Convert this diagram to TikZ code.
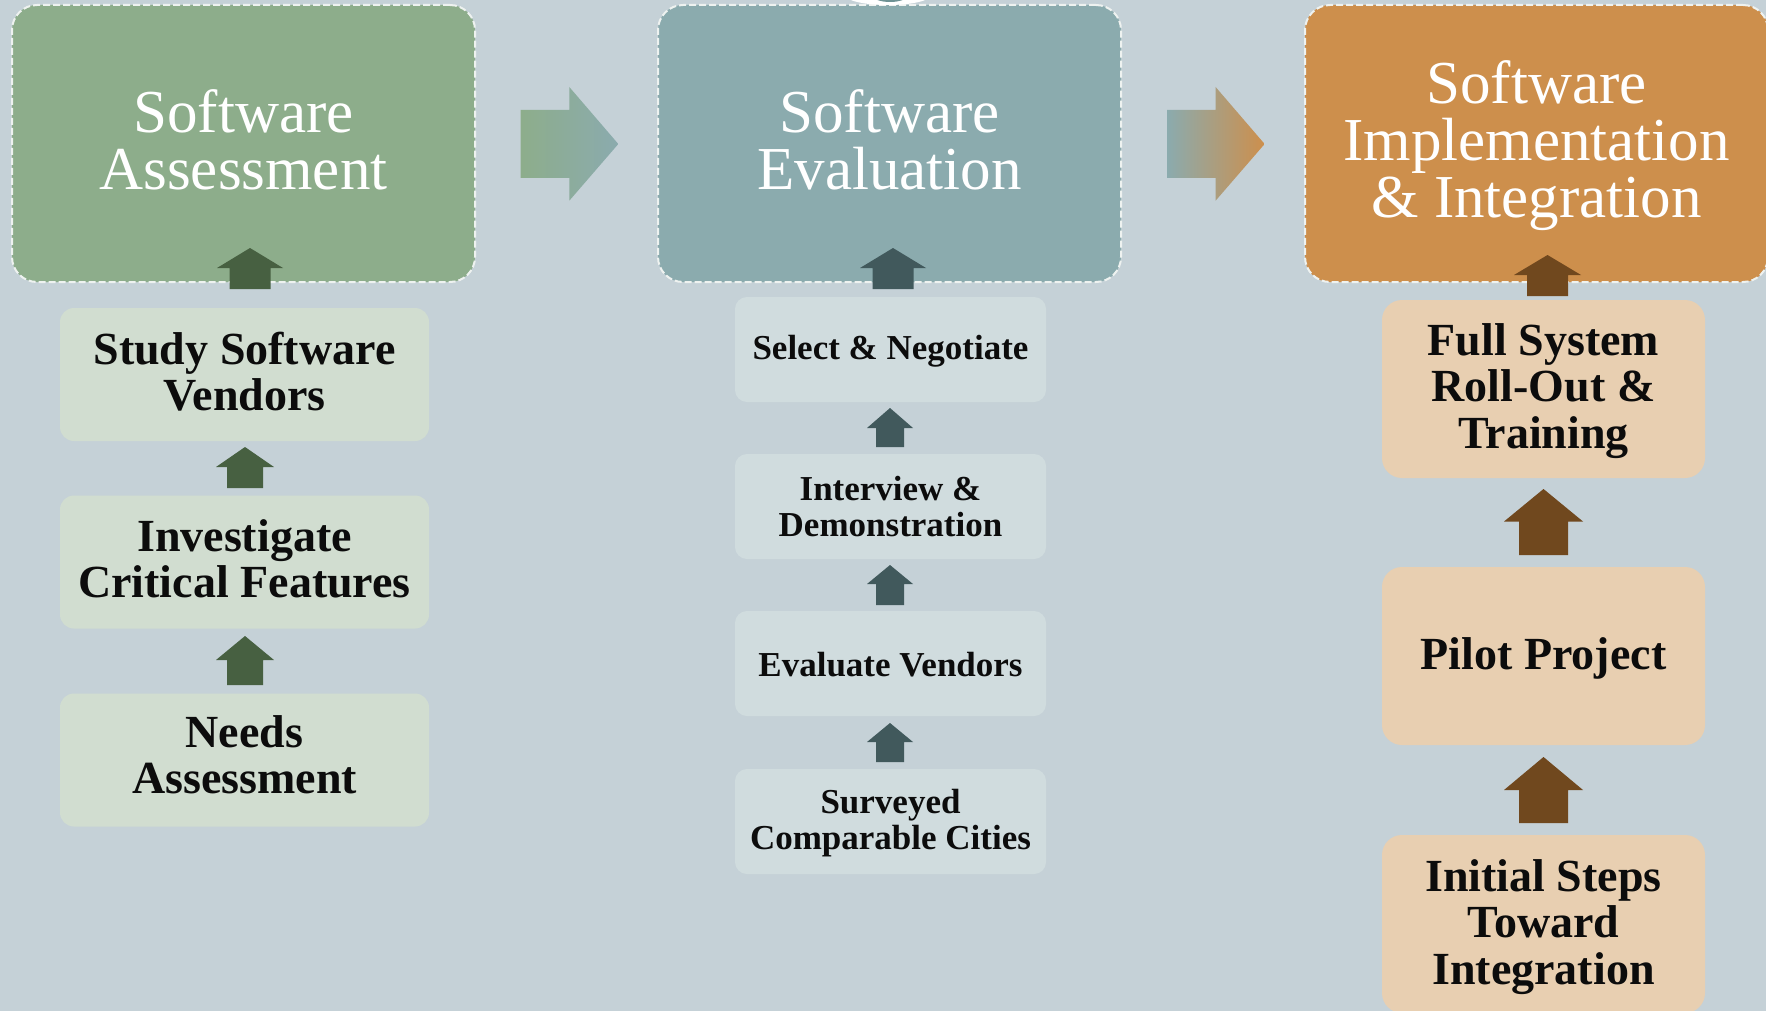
\documentclass[tikz,border=0pt]{standalone}
\usepackage{fontspec}
\setmainfont{Liberation Serif}
\usetikzlibrary{calc}
\definecolor{bg}{RGB}{197,209,215}
\definecolor{boxA}{RGB}{141,173,139}
\definecolor{boxB}{RGB}{139,171,174}
\definecolor{boxC}{RGB}{205,143,76}
\definecolor{subA}{RGB}{209,221,208}
\definecolor{subB}{RGB}{208,220,222}
\definecolor{subC}{RGB}{232,207,177}
\definecolor{arrA}{RGB}{71,96,65}
\definecolor{arrB}{RGB}{65,89,92}
\definecolor{arrC}{RGB}{112,72,30}
\definecolor{dashc}{RGB}{238,242,240}
\definecolor{blobin}{RGB}{110,146,148}
\definecolor{txt}{RGB}{12,12,12}
\newcommand\blockup[7]{%
  \fill[#7] (#1-#6,#4) -- (#1-#6,#3) -- (#1-#5,#3) -- (#1,#2) -- (#1+#5,#3) -- (#1+#6,#3) -- (#1+#6,#4) -- cycle;}
\begin{document}
\begin{tikzpicture}[x=1pt,y=-1pt,
  bigbox/.style={rectangle, rounded corners=25pt, draw=dashc, line width=2pt,
    dash pattern=on 7pt off 3pt, minimum width=463pt, minimum height=277pt,
    inner sep=0pt},
  bigtext/.style={text=white, align=center, inner sep=0pt,
    font=\fontsize{61}{57}\selectfont},
  boxA/.style={rectangle, rounded corners=14pt, fill=subA, minimum width=369pt,
    minimum height=133pt, inner sep=0pt},
  textA/.style={align=center, inner sep=0pt, text=txt,
    font=\bfseries\fontsize{46}{46}\selectfont},
  boxB/.style={rectangle, rounded corners=12pt, fill=subB, minimum width=311pt,
    minimum height=105pt, inner sep=0pt},
  textB/.style={align=center, inner sep=0pt, text=txt,
    font=\bfseries\fontsize{35}{36}\selectfont},
  boxC/.style={rectangle, rounded corners=20pt, fill=subC, minimum width=323pt,
    minimum height=178pt, inner sep=0pt},
  textC/.style={align=center, inner sep=0pt, text=txt,
    font=\bfseries\fontsize{46}{46.5}\selectfont}]
\useasboundingbox (0,0) rectangle (1766,1011);
\clip (0,0) rectangle (1766,1011);
\fill[bg] (0,0) rectangle (1766,1011);

% big boxes
\node[bigbox, fill=boxA] (A) at (243.5,143.5) {};
\node[bigbox, fill=boxB] (B) at (889.5,143.5) {};
\node[bigbox, fill=boxC] (C) at (1536.5,143.5) {};
\node[bigtext] (At) at ($(A.center)+(0,-3.5)$) {Software\\Assessment};
\node[bigtext] (Bt) at ($(B.center)+(0,-3.5)$) {Software\\Evaluation};
\node[bigtext] (Ct) at ($(C.center)+(0,2.5)$) {Software\\Implementation\\\& Integration};

% small white shape at top of middle box
\fill[white] (888,-5) ellipse (43 and 10);
\fill[blobin] (890,-5) ellipse (18 and 7);

% gradient block arrows between phases
\shade[left color=boxA, right color=boxB]
  (520.7,110) -- (569.3,110) -- (569.3,87) -- (618.3,144) -- (569.3,200.7)
  -- (569.3,178) -- (520.7,178) -- cycle;
\shade[left color=boxB, middle color=boxB!50!boxC, right color=boxC]
  (1167,110) -- (1215.6,110) -- (1215.6,87) -- (1264.6,144) -- (1215.6,200.7)
  -- (1215.6,178) -- (1167,178) -- cycle;

% column 1
\node[boxA] (a1) at (244.5,374.5) {};
\node[boxA] (a2) at (244.5,562) {};
\node[boxA] (a3) at (244.5,760) {};
\node[textA] (a1t) at ($(a1.center)+(0,-3)$) {Study Software\\Vendors};
\node[textA] (a2t) at ($(a2.center)+(0,-3.5)$) {Investigate\\Critical Features};
\node[textA] (a3t) at ($(a3.center)+(0,-5)$) {Needs\\Assessment};

% column 2
\node[boxB] (b1) at (890.5,349.5) {};
\node[boxB] (b2) at (890.5,506.5) {};
\node[boxB] (b3) at (890.5,663.5) {};
\node[boxB] (b4) at (890.5,821.5) {};
\node[textB] (b1t) at ($(b1.center)+(0,2)$) {Select \& Negotiate};
\node[textB] (b2t) at ($(b2.center)+(0,0)$) {Interview \&\\Demonstration};
\node[textB] (b3t) at ($(b3.center)+(0,1)$) {Evaluate Vendors};
\node[textB] (b4t) at ($(b4.center)+(0,2)$) {Surveyed\\Comparable Cities};

% column 3
\node[boxC] (c1) at (1543.5,389) {};
\node[boxC] (c2) at (1543.5,656) {};
\node[boxC] (c3) at (1543.5,924) {};
\node[textC] (c1t) at ($(c1.center)+(0,2)$) {Full System\\Roll-Out \&\\Training};
\node[textC] (c2t) at ($(c2.center)+(0,2)$) {Pilot Project};
\node[textC] (c3t) at ($(c3.center)+(0,3)$) {Initial Steps\\Toward\\Integration};

% up arrows
\blockup{250}{248}{268}{289}{33}{20.5}{arrA}
\blockup{245}{447}{467}{488}{29}{18}{arrA}
\blockup{245}{636}{660}{685}{29}{18}{arrA}

\blockup{893}{248}{268}{289}{33}{20.5}{arrB}
\blockup{890}{408}{428}{447}{23}{14}{arrB}
\blockup{890}{565}{584}{605}{23}{14}{arrB}
\blockup{890}{723}{742}{762}{23}{14}{arrB}

\blockup{1547.5}{255}{275}{296}{33.5}{20.5}{arrC}
\blockup{1543.5}{489}{521.5}{555}{39.5}{24.5}{arrC}
\blockup{1543.5}{757}{790}{823}{39.5}{24.5}{arrC}
\end{tikzpicture}
\end{document}
